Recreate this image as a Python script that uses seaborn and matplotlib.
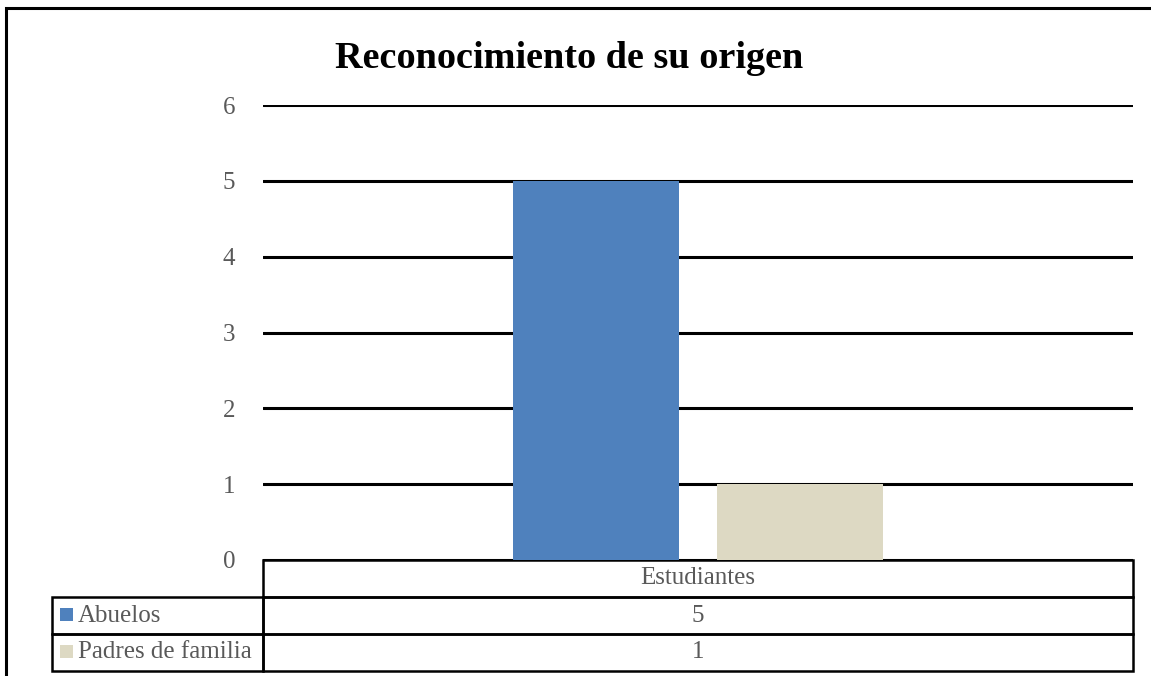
import matplotlib
matplotlib.use("Agg")
import matplotlib.pyplot as plt
from matplotlib.patches import Rectangle
import seaborn as sns
import pandas as pd

# Data
category = ["Estudiantes"]
series = ["Abuelos", "Padres de familia"]
values = [5, 1]
colors = ["#4F81BD", "#DDD9C3"]
title = "Reconocimiento de su origen"
yticks = [0, 1, 2, 3, 4, 5, 6]

df = pd.DataFrame({"cat": category * len(series), "serie": series, "val": values})

sns.set_style("white")
plt.rcParams["font.family"] = ["Liberation Serif", "DejaVu Serif"]

W, H = 1151, 676
fig = plt.figure(figsize=(W / 100, H / 100), dpi=100)
ax = fig.add_axes([263 / W, 1 - 560 / H, 870 / W, 455 / H])

sns.barplot(data=df, x="cat", y="val", hue="serie", palette=colors,
            hue_order=series, width=0.47, gap=0.187, saturation=1,
            legend=False, ax=ax, zorder=3, linewidth=0, edgecolor="none")

ax.set_xlim(-0.5, 0.5)
ax.set_ylim(0, 6)
ax.set_yticks(yticks)
ax.set_yticklabels([str(t) for t in yticks], color="#595959", fontsize=18)
ax.tick_params(axis="y", length=0, pad=20)
ax.set_xticks([])
ax.set_xlabel("")
ax.set_ylabel("")
for s in ax.spines.values():
    s.set_visible(False)
ax.yaxis.grid(True, color="black", linewidth=2.2)
ax.set_axisbelow(True)

# data table below the axes
lab_w = 211 / 870
tab_h = 111 / 455
cell_text = [["", category[0]]] + [[s, str(v)] for s, v in zip(series, values)]
tbl = ax.table(cellText=cell_text, colWidths=[lab_w, 1.0], cellLoc="center",
               bbox=[-lab_w, -tab_h, 1 + lab_w, tab_h])
tbl.auto_set_font_size(False)
tbl.set_fontsize(18)
for (r, c), cell in tbl.get_celld().items():
    cell.set_linewidth(1.8)
    cell.set_edgecolor("black")
    cell.get_text().set_color("#595959")
    cell.set_facecolor("none")
    if r == 0 and c == 0:
        cell.visible_edges = ""
    if c == 0 and r > 0:
        cell._loc = "left"
        cell.get_text().set_horizontalalignment("left")
        cell.PAD = 26 / 211

# legend keys in the table
row_h = tab_h / 3
for i, col in enumerate(colors):
    yc = -row_h * (1.5 + i)
    sq = 13 / 455
    ax.add_patch(Rectangle((-203 / 870, yc - sq / 2 + 0.002), 13 / 870, sq,
                           transform=ax.transAxes, clip_on=False,
                           facecolor=col, edgecolor="none"))

fig.text(569 / W, 1 - 58 / H, title, ha="center", va="center",
         fontsize=27.5, fontweight="bold", color="black")

# outer chart border (partly outside the image)
fig.patches.append(Rectangle((6 / W, -0.1), 1.2, 1 - 8 / H + 0.1,
                             transform=fig.transFigure, fill=False,
                             edgecolor="black", linewidth=2.2))

fig.savefig("out.png", dpi=100)
